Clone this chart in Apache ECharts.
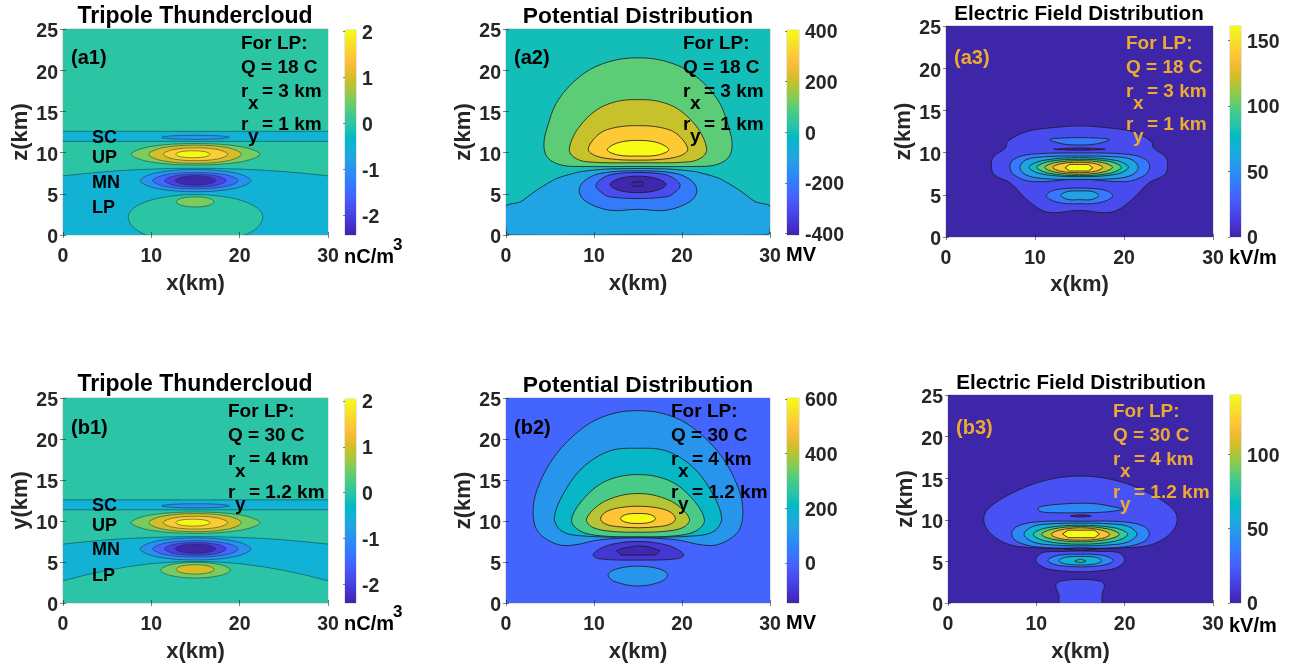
<!DOCTYPE html>
<html>
<head>
<meta charset="utf-8">
<title>Tripole thundercloud</title>
<script src="https://cdn.jsdelivr.net/npm/echarts@6/dist/echarts.min.js"></script>
<style>
  html,body{margin:0;padding:0;background:#fff;}
  #chart{width:1299px;height:666px;}
</style>
</head>
<body>
<div id="chart"></div>
<script>
// 色表 parula，每3档取一个
const parulaStops = ["#3e26a8","#4332cb","#4741e5","#4852f4","#4563fd","#3875fe","#2d87f7","#2796eb","#20a5e3","#12b1d6","#02bac3",
  "#24c2ae","#37c897","#57cc7a","#80cc59","#abc739","#d1bf27","#f0ba36","#fec338","#fad62d","#f5e924","#f9fb14"];

const xTicks = [0,10,20,30];
const zTicks = [0,5,10,15,20,25];

// 每条等值线: [level, [[x,z],...], smooth]  x,z 单位 km，读图估计
const frameBox = [[0,0],[0,25],[30,25],[30,0]];

// 上正电荷区 UP / 主负电荷区 MN / 屏蔽层 SC，a1 b1 共用
const scContours = [
  [-0.5,[[-1,11.36],[-1,12.58],[31,12.58],[31,11.36]],0],
  [-1,[[11.2,11.85],[12.3,12.03],[15,12.1],[17.7,12.03],[18.8,11.85],[17.7,11.67],[15,11.6],[12.3,11.67]]]
];
const upContours = [
  [0.5,[[7.7,9.8],[9.84,10.72],[15,11.1],[20.16,10.72],[22.3,9.8],[20.16,8.88],[15,8.5],[9.84,8.88]]],
  [1,[[9.7,9.8],[11.25,10.58],[15,10.9],[18.7,10.58],[20.2,9.8],[18.7,9.02],[15,8.7],[11.25,9.02]]],
  [1.5,[[11.35,9.8],[12.4,10.35],[15,10.58],[17.6,10.35],[18.65,9.8],[17.6,9.25],[15,9.02],[12.4,9.25]]],
  [2,[[12.75,9.8],[13.3,10.1],[14.7,10.22],[16.1,10.1],[16.65,9.8],[16.1,9.5],[14.7,9.38],[13.3,9.5]]]
];
const mnContours = [
  [-1,[[8.72,6.6],[10.55,7.55],[15,7.95],[19.45,7.55],[21.28,6.6],[19.45,5.65],[15,5.25],[10.55,5.65]]],
  [-1.5,[[10.15,6.6],[11.55,7.3],[15,7.6],[18.45,7.3],[19.85,6.6],[18.45,5.9],[15,5.6],[11.55,5.9]]],
  [-2,[[11.5,6.6],[12.5,7.15],[15,7.38],[17.5,7.15],[18.5,6.6],[17.5,6.05],[15,5.82],[12.5,6.05]]],
  [-2.4,[[12.7,6.62],[13.4,7.02],[15,7.2],[16.6,7.02],[17.3,6.62],[16.6,6.22],[15,6.05],[13.4,6.22]]]
];
const midBandTop = [[-1,-1],[-1,7.13],[0,7.18],[2.5,7.46],[5,7.7],[7.5,7.88],[10,8.0],[12.5,8.08],[15,8.1],[17.5,8.08],[20,8.0],[22.5,7.88],[25,7.7],[27.5,7.46],[30,7.18],[31,7.13],[31,-1]];

const a1Contours = [
  [0,frameBox,0],
  [-0.5,midBandTop,0],
  ...scContours, ...upContours, ...mnContours,
  [0,[[7.38,2.2],[8,3.27],[9.84,4.2],[12.5,4.75],[15,4.91],[17.5,4.75],[20.16,4.2],[22,3.27],[22.62,2.2],[22,0.9],[20.2,-0.1],[15,-0.7],[9.8,-0.1],[8,0.9]]],
  [0.5,[[12.8,4.03],[13.4,4.45],[15,4.63],[16.5,4.45],[17.1,4.03],[16.5,3.6],[15,3.4],[13.4,3.6]]]
];

const b1Contours = [
  [0,frameBox,0],
  [-0.5,midBandTop,0],
  ...scContours, ...upContours, ...mnContours,
  [0,[[-1,-1],[-1,2.45],[0,2.7],[2.5,3.4],[5,3.98],[7.5,4.45],[10,4.8],[12.5,5.0],[15,5.07],[17.5,5.0],[20,4.8],[22.5,4.45],[25,3.98],[27.5,3.4],[30,2.7],[31,2.45],[31,-1]],0],
  [0.5,[[11.05,4],[12.2,4.68],[15,4.95],[17.8,4.68],[18.95,4],[17.8,3.35],[15,3.05],[12.2,3.35]]],
  [1,[[12.8,4.1],[13.4,4.5],[15,4.67],[16.5,4.5],[17.1,4.1],[16.5,3.7],[15,3.53],[13.4,3.7]]]
];

const a2Contours = [
  [0,frameBox,0],
  [100,[[4.31,10.71],[4.6,12.74],[5.94,16.4],[8.78,19.56],[11.8,21.06],[15,21.5],[18.2,21.06],[21.22,19.56],[24.06,16.4],[25.4,12.74],[25.69,10.71],[25.2,9.3],[23.7,8.48],[21.6,8.32],[15,8.32],[8.4,8.32],[6.3,8.48],[4.8,9.3]]],
  [200,[[7.19,10.5],[8.2,12.95],[10.3,15.18],[12.56,16.2],[15,16.43],[17.44,16.2],[19.7,15.18],[21.8,12.95],[22.81,10.5],[22.36,9.5],[20.85,8.89],[15,8.77],[9.15,8.89],[7.64,9.5]]],
  [300,[[9.34,10.43],[10.67,12.34],[12.56,13.07],[15,13.27],[17.44,13.07],[19.33,12.34],[20.66,10.43],[19.71,9.58],[17.44,9.17],[15,9.09],[12.56,9.17],[10.29,9.58]]],
  [400,[[11.5,10.35],[12.75,11.2],[15,11.48],[17.25,11.2],[18.5,10.35],[17.25,9.7],[15,9.58],[12.75,9.7]]],
  [-100,[[0,0.45],[0,3.53],[1.6,4.0],[3.48,5.44],[5.75,6.86],[8.4,7.67],[11.4,8],[15,8.07],[18.6,8],[21.6,7.67],[24.25,6.86],[26.52,5.44],[28.4,4],[30,3.53],[30,0.45],[29.66,0],[15,0],[0.34,0]],0.2],
  [-200,[[8.32,5.23],[8.78,6.45],[10.67,7.47],[15,7.79],[19.33,7.47],[21.22,6.45],[21.68,5.23],[20.85,4.02],[18.2,3.0],[15,3.12],[11.8,3.0],[9.15,4.02]]],
  [-300,[[10.21,5.97],[10.9,6.85],[12.18,7.39],[15,7.59],[17.82,7.39],[19.1,6.85],[19.79,5.97],[18.9,4.95],[18.2,4.63],[15,4.42],[11.8,4.63],[11.1,4.95]]],
  [-400,[[11.8,6.13],[12.9,6.85],[15,7.14],[17.1,6.85],[18.2,6.13],[17.1,5.4],[15,5.15],[12.9,5.4]]],
  [-405,[[14.3,6.1],[14.4,6.42],[15.5,6.45],[15.66,6.2],[15.55,5.95],[14.5,5.9]],0]
];

const a3Contours = [
  [0,frameBox,0],
  [20,[[5.09,8.48],[5.36,9.54],[6.67,10.53],[6.93,11.32],[9.1,12.5],[12.47,13],[15,13.17],[17.53,13],[20.9,12.5],[23.07,11.32],[23.33,10.53],[24.64,9.54],[24.91,8.48],[24.57,7.37],[22.77,6.39],[20.9,4.42],[18.65,2.96],[15,3.15],[11.35,2.96],[9.1,4.42],[7.23,6.39],[5.43,7.37]]],
  [40,[[11.65,11.55],[13,11.72],[15,11.78],[17,11.72],[18.35,11.55],[17,11.05],[15,10.9],[13,11.05]]],
  [0,[[12.1,10.4],[13.5,10.5],[15,10.55],[16.5,10.5],[17.9,10.4],[16.5,10.32],[15,10.28],[13.5,10.32]]],
  [40,[[11.27,4.9],[12,5.5],[13.5,5.75],[15,5.8],[16.5,5.75],[18,5.5],[18.73,4.9],[18,4.3],[16.5,3.95],[15,3.94],[13.5,3.95],[12,4.3]]],
  [60,[[12.9,4.95],[13.7,5.4],[15,5.45],[16.4,5.4],[17.15,4.95],[16.4,4.45],[15,4.42],[13.7,4.45]]],
  [40,[[7.17,8.3],[7.6,9.2],[9.5,9.8],[15,9.95],[20.5,9.8],[22.4,9.2],[22.9,8.3],[22.3,7.3],[20.2,6.55],[15,6.87],[9.8,6.55],[7.7,7.3]]],
  [60,[[8.31,8.25],[9,9.15],[11,9.5],[15,9.6],[19,9.5],[20.9,9.15],[21.6,8.25],[20.9,7.35],[19,6.92],[15,6.83],[11,6.92],[9,7.35]]],
  [80,[[9.33,8.25],[10.8,9.05],[15,9.4],[19.2,9.05],[20.5,8.25],[19.2,7.45],[15,7.15],[10.8,7.45]]],
  [100,[[10.2,8.25],[11.6,8.95],[15,9.2],[18.4,8.95],[19.7,8.25],[18.4,7.55],[15,7.27],[11.6,7.55]]],
  [120,[[11.1,8.25],[12.3,8.82],[15,9.04],[17.6,8.82],[18.7,8.25],[17.6,7.68],[15,7.43],[12.3,7.68]]],
  [140,[[12,8.25],[12.9,8.68],[15,8.85],[16.8,8.68],[17.6,8.25],[16.8,7.8],[15,7.62],[12.9,7.8]]],
  [160,[[13.37,8.2],[13.9,8.6],[16,8.6],[16.5,8.2],[16,7.82],[13.9,7.82]],0]
];

const b2Contours = [
  [0,frameBox,0],
  [100,[[3.08,10.83],[3.55,13.88],[5.55,17.94],[8.78,21.39],[11.8,23],[15,23.46],[18.2,23],[21.22,21.39],[24.45,17.94],[26.45,13.88],[26.92,10.83],[26.3,8.6],[24.25,7.18],[22.4,7.06],[19.33,7.71],[15,7.95],[10.67,7.71],[7.6,7.06],[5.75,7.18],[3.7,8.6]]],
  [200,[[5.5,10.43],[6.82,13.88],[8.9,16.7],[11.8,18.55],[15,18.87],[18.2,18.55],[21.1,16.7],[23.18,13.88],[24.5,10.43],[23.7,8.8],[21.6,8.2],[15,8.03],[8.4,8.2],[6.3,8.8]]],
  [300,[[7.45,10.1],[8.78,12.66],[11.4,14.9],[15,15.66],[18.6,14.9],[21.22,12.66],[22.55,10.1],[21.6,8.8],[19.33,8.2],[15,8.08],[10.67,8.2],[8.4,8.8]]],
  [400,[[9.15,10.23],[10.67,12.05],[12.9,13.07],[15,13.35],[17.1,13.07],[19.33,12.05],[20.85,10.23],[20.1,9.2],[17.8,8.72],[15,8.64],[12.2,8.72],[9.9,9.2]]],
  [500,[[10.75,10.2],[11.2,11],[12.55,11.55],[15,11.8],[17.45,11.55],[18.8,11],[19.25,10.2],[18.6,9.6],[17.45,9.33],[15,9.17],[12.55,9.33],[11.4,9.6]]],
  [600,[[13,10.3],[13.6,10.78],[15,10.92],[16.4,10.78],[17,10.3],[16.4,9.85],[15,9.7],[13.6,9.85]]],
  [-100,[[9.9,5.9],[11,6.8],[13,7.35],[15,7.5],[17,7.35],[19,6.8],[20.2,5.9],[19.5,5.4],[15,5.23],[10.5,5.4]]],
  [-140,[[12.55,6.35],[13.1,6.6],[14.9,6.98],[16.2,6.85],[17.5,6.4],[17,5.85],[13.1,5.85]],0],
  [100,[[11.6,3.4],[12.4,4.1],[15,4.5],[17.6,4.1],[18.35,3.4],[17.6,2.6],[15,2.07],[12.4,2.6]]]
];

const b3Contours = [
  [0,frameBox,0],
  [20,[[4.05,9.87],[4.5,11.26],[7,13.06],[10.75,14.66],[15,15.26],[19.25,14.66],[23,13.06],[25.5,11.26],[25.95,9.87],[25.1,8.27],[23,7],[20,6.63],[15,6.55],[10,6.63],[7,7],[4.9,8.27]]],
  [40,[[10.2,11.4],[11,11.7],[13,11.9],[15,12],[17,11.9],[19,11.5],[19.8,11.3],[18,10.95],[15,10.85],[12,10.85],[10.4,11]]],
  [0,[[13.85,10.46],[15,10.6],[16.2,10.46],[15,10.33]]],
  [40,[[7.2,8.3],[7.8,9.2],[10,9.75],[15,9.83],[20,9.75],[22.2,9.2],[22.8,8.3],[22.2,7.4],[20,6.75],[15,6.6],[10,6.75],[7.8,7.4]]],
  [60,[[8.6,8.27],[9.6,9.2],[11.5,9.5],[15,9.6],[18.5,9.5],[20.4,9.2],[21.4,8.27],[20.4,7.35],[18.5,7],[15,6.87],[11.5,7],[9.6,7.35]]],
  [80,[[9.65,8.25],[11,9],[15,9.35],[19,9],[20.35,8.25],[19,7.45],[15,7.07],[11,7.45]]],
  [100,[[10.6,8.25],[11.9,8.9],[15,9.18],[18.1,8.9],[19.4,8.25],[18.1,7.65],[15,7.35],[11.9,7.65]]],
  [120,[[11.7,8.25],[12.6,8.75],[15,9.03],[17.4,8.75],[18.3,8.25],[17.4,7.75],[15,7.55],[12.6,7.75]]],
  [140,[[12.95,8.3],[13.6,8.75],[16.6,8.75],[17.15,8.3],[16.6,7.85],[13.6,7.85]],0],
  [0,[[13.2,6.5],[15,6.62],[16.8,6.5],[15,6.33]]],
  [20,[[9.95,5.07],[10.4,5.87],[11.2,6.15],[13,6.2],[15,6.25],[17,6.2],[18.8,6.15],[19.6,5.87],[20,5.07],[19,4.2],[17,3.85],[15,3.75],[13,3.85],[11,4.2]]],
  [40,[[11.3,5.1],[12,5.6],[13.5,5.85],[15,5.87],[16.5,5.85],[18,5.6],[18.7,5.1],[18,4.65],[16.5,4.4],[15,4.35],[13.5,4.4],[12,4.65]]],
  [60,[[12.55,5.1],[13.3,5.5],[15,5.6],[16.7,5.5],[17.4,5.1],[16.7,4.7],[15,4.58],[13.3,4.7]]],
  [80,[[14.35,5.03],[15,5.22],[15.6,5.03],[15,4.88]]],
  [20,[[12.75,-0.3],[12.55,1],[12.2,2.1],[12.7,2.6],[15,2.84],[17.3,2.6],[17.7,2.1],[17.45,1],[17.25,-0.3]]]
];

const chargeLabels = ["SC","UP","MN","LP"];
const chargeTicks = [-2,-1,0,1,2];
const potentialTicksA = [-400,-200,0,200,400];
const potentialTicksB = [0,200,400,600];
const fieldTicksA = [0,50,100,150];
const fieldTicksB = [0,50,100];

const FONT = '"Liberation Sans", Arial, sans-serif';
const INK = "#262626";
const ORANGE = "#EDAA30";

// 版面
const panels = [
  {tag:"(a1)",title:"Tripole Thundercloud",tx:195,ty:15,tsize:23,yName:"z(km)",contours:a1Contours,line:"rgba(20,50,60,0.65)",
    box:[63,29,265,206],cb:[345,30,11,205],range:[-2.43,2.03],ticks:chargeTicks,unit:"nC/m",uy:256,sup:true,xGap:38,
    notes:["For LP:","Q = 18 C","3 km","1 km"],nx:241,ny:42,color:"#000",labelYs:[137,157,182,207]},
  {tag:"(a2)",title:"Potential Distribution",tx:638,ty:15,tsize:22.8,yName:"z(km)",contours:a2Contours,line:"#1a1a1a",
    box:[506,29,264,206],cb:[787,30,12,205],range:[-405,403],ticks:potentialTicksA,unit:"MV",uy:254,xGap:38,
    notes:["For LP:","Q = 18 C","3 km","1 km"],nx:683,ny:42,color:"#000"},
  {tag:"(a3)",title:"Electric Field Distribution",tx:1079,ty:13,tsize:20.6,yName:"z(km)",contours:a3Contours,line:"#1a1a1a",
    box:[946,26,267,211],cb:[1230,26,11,211],range:[0,161],ticks:fieldTicksA,unit:"kV/m",uy:257,xGap:37,
    notes:["For LP:","Q = 18 C","3 km","1 km"],nx:1126,ny:42,color:ORANGE},
  {tag:"(b1)",title:"Tripole Thundercloud",tx:195,ty:383,tsize:23,yName:"y(km)",contours:b1Contours,line:"rgba(20,50,60,0.65)",
    box:[63,398,265,205],cb:[345,399,11,204],range:[-2.4,2.04],ticks:chargeTicks,unit:"nC/m",uy:623,sup:true,xGap:38,
    notes:["For LP:","Q = 30 C","4 km","1.2 km"],nx:228,ny:410,color:"#000",labelYs:[505,525,549,575]},
  {tag:"(b2)",title:"Potential Distribution",tx:638,ty:384,tsize:22.8,yName:"z(km)",contours:b2Contours,line:"#1a1a1a",
    box:[506,398,264,205],cb:[787,398,12,205],range:[-147,603],ticks:potentialTicksB,unit:"MV",uy:622,xGap:38,
    notes:["For LP:","Q = 30 C","4 km","1.2 km"],nx:671,ny:410,color:"#000"},
  {tag:"(b3)",title:"Electric Field Distribution",tx:1081,ty:382,tsize:20.6,yName:"z(km)",contours:b3Contours,line:"#1a1a1a",
    box:[948,395,265,208],cb:[1230,395,11,208],range:[0,140],ticks:fieldTicksB,unit:"kV/m",uy:625,xGap:38,
    notes:["For LP:","Q = 30 C","4 km","1.2 km"],nx:1113,ny:410,color:ORANGE}
];

function parulaColor(t){
  t = Math.max(0,Math.min(1,t));
  let p = t*(parulaStops.length-1), i = Math.min(Math.floor(p),parulaStops.length-2), f = p-i;
  let a = parseInt(parulaStops[i].slice(1),16), b = parseInt(parulaStops[i+1].slice(1),16);
  let ch = (s)=>Math.round(((a>>s)&255)*(1-f)+((b>>s)&255)*f);
  return "rgb("+ch(16)+","+ch(8)+","+ch(0)+")";
}

function textEl(text,x,y,size,fill,align){
  return {type:"text",z:100,x:x,y:y+1.5,silent:true,style:{text:text,fill:fill,font:"bold "+size+"px "+FONT,
    textAlign:align||"left",textVerticalAlign:"middle",align:align||"left",verticalAlign:"middle"}};
}

let option = {animation:false,backgroundColor:"#fff",title:[],grid:[],xAxis:[],yAxis:[],series:[],graphic:[]};

panels.forEach((p,i)=>{
  let g = i*2;
  option.title.push({text:p.title,left:p.tx,top:p.ty+1.5,textAlign:"center",textVerticalAlign:"middle",padding:0,
    textStyle:{fontFamily:FONT,fontWeight:"bold",fontSize:p.tsize,color:"#000"}});

  option.grid.push({left:p.box[0],top:p.box[1],width:p.box[2],height:p.box[3],show:true,borderColor:"#9a9a9a",borderWidth:0.6,backgroundColor:"transparent"});
  option.grid.push({left:p.cb[0],top:p.cb[1],width:p.cb[2],height:p.cb[3],show:true,borderColor:"#a8a8a8",borderWidth:0.6,backgroundColor:"transparent"});

  let axisFont = {fontFamily:FONT,fontWeight:"bold",fontSize:19.5,color:INK};
  // 竖轴标签比刻度略低，用 rich 的 padding 往下挪
  let lowered = (top)=>({formatter:"{v|{value}}",rich:{v:Object.assign({padding:[top,0,0,0]},axisFont)}});
  option.xAxis.push({type:"value",gridIndex:g,min:0,max:30,interval:10,z:10,
    name:"x(km)",nameLocation:"middle",nameGap:p.xGap,nameTextStyle:Object.assign({},axisFont,{fontSize:22}),
    axisLine:{show:false},axisTick:{inside:true,length:3,lineStyle:{color:INK,width:0.6}},splitLine:{show:false},
    axisLabel:Object.assign({margin:12,customValues:xTicks},axisFont)});
  option.yAxis.push({type:"value",gridIndex:g,min:0,max:25,interval:5,z:10,
    name:p.yName,nameLocation:"middle",nameRotate:90,nameGap:27,nameTextStyle:Object.assign({},axisFont,{fontSize:22}),
    axisLine:{show:false},axisTick:{inside:true,length:3,lineStyle:{color:INK,width:0.6}},splitLine:{show:false},
    axisLabel:Object.assign({margin:5,customValues:zTicks},axisFont,lowered(6))});

  option.xAxis.push({type:"value",gridIndex:g+1,min:0,max:1,show:false});
  option.yAxis.push({type:"value",gridIndex:g+1,min:p.range[0],max:p.range[1],position:"right",z:10,
    axisLine:{show:false},axisTick:{inside:true,length:2,customValues:p.ticks,lineStyle:{color:INK,width:0.6}},splitLine:{show:false},
    axisLabel:Object.assign({margin:6,customValues:p.ticks},axisFont,lowered(4))});

  // 填充等值线，外层先画
  option.series.push({
    type:"custom",coordinateSystem:"cartesian2d",xAxisIndex:g,yAxisIndex:g,clip:true,silent:true,
    data:p.contours.map(c=>[c[1][0][0],c[1][0][1],c[0]]),
    renderItem:(params,api)=>{
      let c = p.contours[params.dataIndex];
      let pts = c[1].map(v=>api.coord(v));
      let isFrame = c[1]===frameBox;
      return {type:"polygon",shape:{points:pts,smooth:c[2]===undefined?0.35:c[2],smoothConstraint:false},
        style:{fill:parulaColor((c[0]-p.range[0])/(p.range[1]-p.range[0])),stroke:isFrame?null:p.line,lineWidth:0.8}};
    }
  });

  // colorbar
  option.series.push({
    type:"custom",coordinateSystem:"cartesian2d",xAxisIndex:g+1,yAxisIndex:g+1,clip:true,silent:true,
    data:[[0,p.range[0],1,p.range[1]]],
    renderItem:(params,api)=>{
      let a = api.coord([0,p.range[1]]), b = api.coord([1,p.range[0]]);
      return {type:"rect",shape:{x:a[0],y:a[1],width:b[0]-a[0],height:b[1]-a[1]},
        style:{fill:new echarts.graphic.LinearGradient(0,1,0,0,parulaStops.map((c,k)=>({offset:k/(parulaStops.length-1),color:c})))}};
    }
  });

  let els = option.graphic;
  els.push(textEl(p.tag,p.box[0]+8,i<3?57:427,20,p.color));
  els.push(textEl(p.notes[0],p.nx,p.ny,19,p.color));
  els.push(textEl(p.notes[1],p.nx,p.ny+24,19,p.color));
  els.push(textEl("r",p.nx,p.ny+48,19,p.color));
  els.push(textEl("x",p.nx+7,p.ny+60,19,p.color));
  els.push(textEl("= "+p.notes[2],p.nx+21,p.ny+48,19,p.color));
  els.push(textEl("r",p.nx,p.ny+81,19,p.color));
  els.push(textEl("y",p.nx+7,p.ny+93,19,p.color));
  els.push(textEl("= "+p.notes[3],p.nx+21,p.ny+81,19,p.color));
  els.push(textEl(p.unit,p.cb[0]-1,p.uy,20,"#000"));
  if(p.sup)
    els.push(textEl("3",p.cb[0]+48,p.uy-12,17,"#000"));
  if(p.labelYs)
    chargeLabels.forEach((s,k)=>els.push(textEl(s,92,p.labelYs[k],18,"#000")));
});

// 上、右两边的对称刻度
panels.forEach((p,i)=>{
  let g = i*2, mirrorTick = {inside:true,length:3,lineStyle:{color:INK,width:0.6}};
  option.xAxis.push({type:"value",gridIndex:g,position:"top",min:0,max:30,interval:10,z:10,
    axisLine:{show:false},axisLabel:{show:false},axisTick:mirrorTick,splitLine:{show:false}});
  option.yAxis.push({type:"value",gridIndex:g,position:"right",min:0,max:25,interval:5,z:10,
    axisLine:{show:false},axisLabel:{show:false},axisTick:mirrorTick,splitLine:{show:false}});
});

let chart = echarts.init(document.getElementById("chart"),null,{renderer:"canvas"});
chart.setOption(option);
</script>
</body>
</html>
